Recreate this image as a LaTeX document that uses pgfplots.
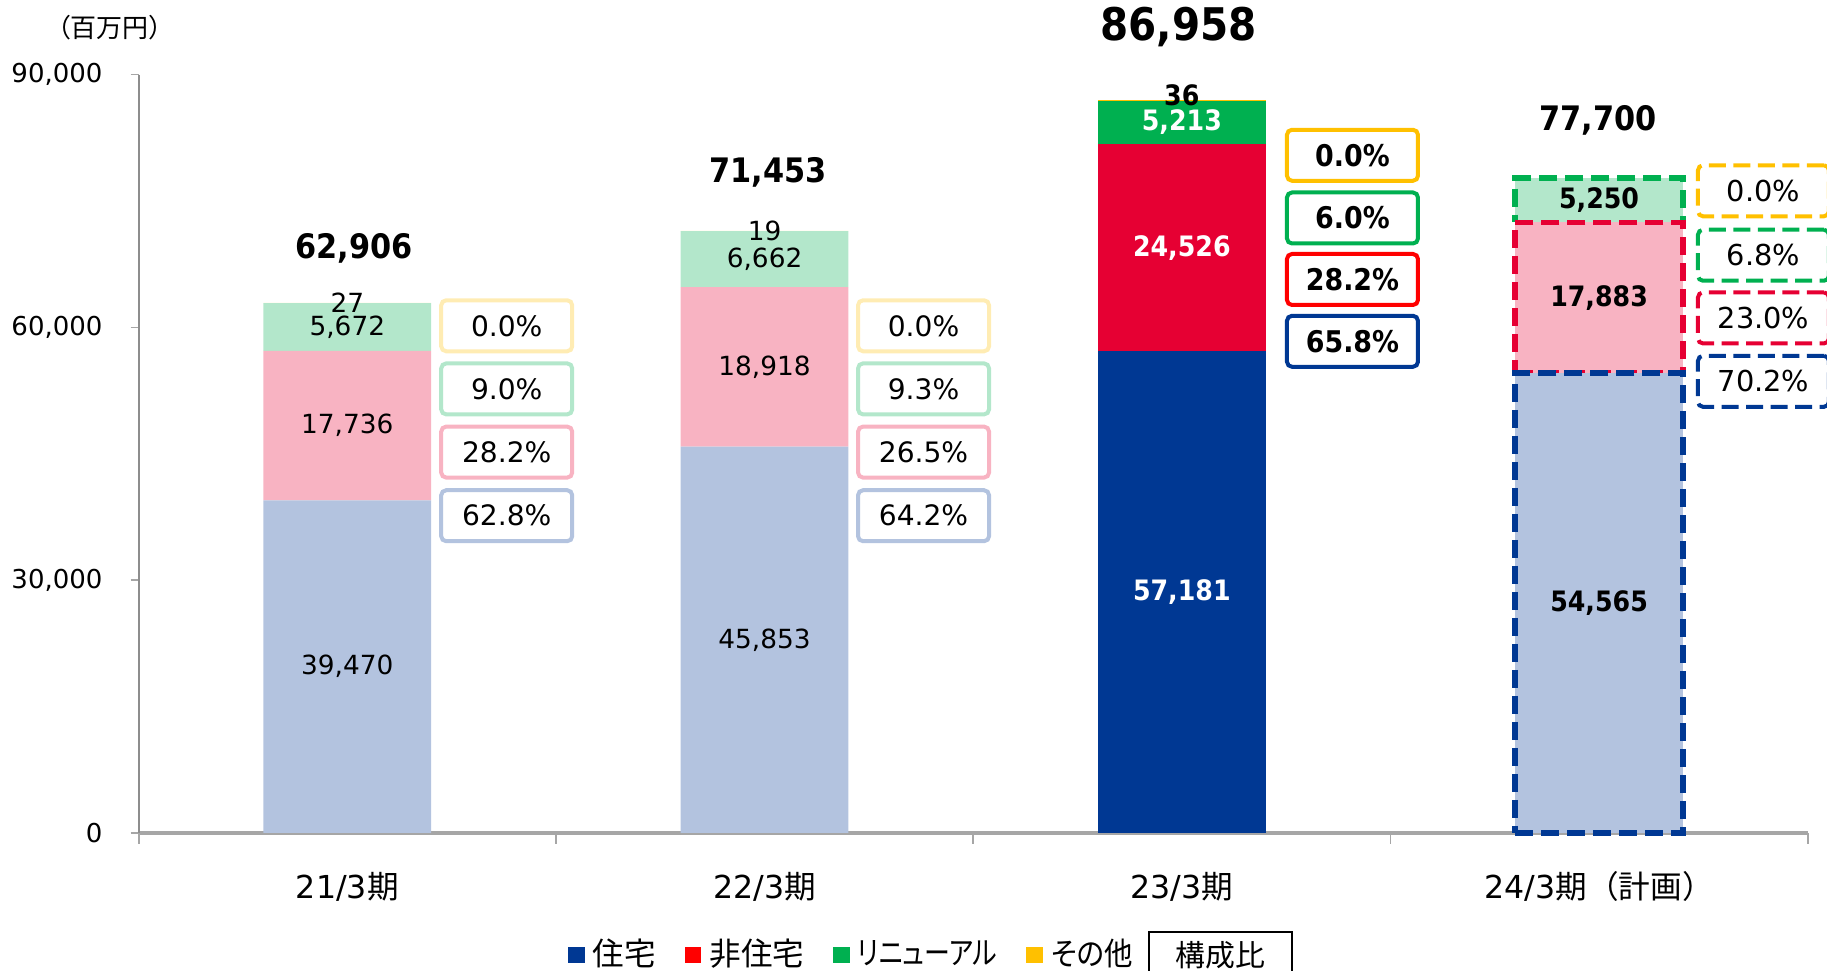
\documentclass[border=0pt]{standalone}
\usepackage{fontspec}
\usepackage{pgfplots}
\pgfplotsset{compat=1.18}
\setmainfont{DejaVu Sans}[BoldFont={DejaVu Sans Condensed Bold}]
\newfontfamily\cjk{Noto Sans CJK JP}
\newfontfamily\cjkp{Noto Sans CJK JP}[RawFeature=+palt]

\definecolor{dblue}{HTML}{003893}
\definecolor{lblue}{HTML}{B3C3DF}
\definecolor{dred}{HTML}{E60033}
\definecolor{lred}{HTML}{F8B3C2}
\definecolor{pred}{HTML}{FF0000}
\definecolor{dgreen}{HTML}{00B050}
\definecolor{lgreen}{HTML}{B3E7CB}
\definecolor{dyellow}{HTML}{FFC000}
\definecolor{lyellow}{HTML}{FFECB3}
\definecolor{axgray}{HTML}{A6A6A6}

\newcommand{\fs}[1]{\fontsize{#1}{#1}\selectfont}

% nodes near coords align=center already puts the label mid-segment
\pgfplotsset{
  frame/.style={
    scale only axis, width=166.9mm, height=75.84mm,
    xmin=-0.5, xmax=3.5, ymin=0, ymax=90000,
    ybar stacked, bar width=0.402, clip=false,
    point meta=explicit,
    /pgf/number format/1000 sep={,},
    /pgf/number format/assume math mode=true,
    nodes near coords align=center,
    every node near coord/.append style={anchor=center},
  },
  seg/.style={fill=#1, draw=none, forget plot, nodes near coords},
  plan/.style={fill=#1, line width=0.55mm, dash pattern=on 1.8mm off 0.8mm},
}
\tikzset{
  pb/.style={fill=white, line width=0.4mm, rounded corners=0.5mm,
    minimum width=13.1mm, minimum height=5.1mm, inner sep=0pt, font=\fs{8}},
  pbd/.style={pb, dash pattern=on 1.7mm off 0.75mm},
}

\begin{document}
\begin{tikzpicture}
\useasboundingbox (-13.87mm,-13.8mm) rectangle (168.83mm,83.3mm);

% 21/3, 22/3
\begin{axis}[frame,
  axis lines*=left,
  x axis line style={draw=axgray, line width=0.9pt},
  y axis line style={draw=axgray!85!black, line width=0.5pt},
  xtick={0,1,2,3},
  xticklabels={21/3{\cjk 期}, 22/3{\cjk 期}, 23/3{\cjk 期}, 24/3{\cjk 期（計画）}},
  minor xtick={-0.5,0.5,1.5,2.5,3.5},
  major x tick style={draw=none},
  minor x tick style={draw=axgray, line width=0.5pt},
  ytick={0,30000,60000,90000},
  y tick style={draw=axgray, line width=0.5pt},
  tick align=outside, major tick length=0.8mm, minor tick length=1.1mm,
  scaled y ticks=false,
  yticklabel style={font=\fs{7.4}, inner sep=0pt, xshift=-2.75mm},
  xticklabel style={font=\fs{9}, anchor=base, yshift=-5.8mm},
  every node near coord/.append style={font=\fs{7.5}},
  legend style={at={(0.257,-0.161)}, anchor=west, draw=none, fill=none,
    inner sep=0pt, font=\cjkp\fs{9}, legend columns=-1,
    nodes={inner sep=0pt},
    /tikz/every even column/.append style={column sep=2.9mm}},
]
\addplot[seg=lblue] coordinates {(0,39470) [39470] (1,45853) [45853]};
\addplot[seg=lred] coordinates {(0,17736) [17736] (1,18918) [18918]};
\addplot[seg=lgreen] coordinates {(0,5672) [5672] (1,6662) [6662]};
\addplot[seg=lyellow] coordinates {(0,27) [27] (1,19) [19]};

\addlegendimage{legend image code/.code={\fill[dblue] (0mm,-0.75mm) rectangle (1.5mm,0.75mm); \path (2.3mm,0mm);}}
\addlegendentry{住宅}
\addlegendimage{legend image code/.code={\fill[pred] (0mm,-0.75mm) rectangle (1.5mm,0.75mm); \path (2.3mm,0mm);}}
\addlegendentry{非住宅}
\addlegendimage{legend image code/.code={\fill[dgreen] (0mm,-0.75mm) rectangle (1.5mm,0.75mm); \path (2.3mm,0mm);}}
\addlegendentry{\scalebox{0.82}[1]{リニューアル}}
\addlegendimage{legend image code/.code={\fill[dyellow] (0mm,-0.75mm) rectangle (1.5mm,0.75mm); \path (2.3mm,0mm);}}
\addlegendentry{\scalebox{0.9}[1]{その他}}

\node[draw=black, line width=0.6pt, minimum width=14.3mm, minimum height=4.6mm,
  inner sep=0pt, font=\cjk\fs{8.5}] at (rel axis cs:0.648,-0.161) {構成比};
\node[font=\cjkp\fs{7.4}] at (axis cs:-0.569,95530) {（百万円）};
\end{axis}

% 23/3
\begin{axis}[frame, hide axis,
  every node near coord/.append style={font=\bfseries\fs{8}, text=white}]
\addplot[seg=dblue] coordinates {(2,57181) [57181]};
\addplot[seg=dred] coordinates {(2,24526) [24526]};
\addplot[seg=dgreen] coordinates {(2,5213) [5213]};
\addplot[seg=dyellow, every node near coord/.append style={text=black, yshift=1.5pt}] coordinates {(2,36) [36]};
\end{axis}

% 24/3 (plan)
\begin{axis}[frame, hide axis,
  every node near coord/.append style={font=\bfseries\fs{8}, text=black}]
\addplot[seg=lblue, plan=lblue, draw=dblue] coordinates {(3,54565) [54565]};
\addplot[seg=lred, plan=lred, draw=dred] coordinates {(3,17883) [17883]};
\addplot[seg=lgreen, plan=lgreen, draw=dgreen] coordinates {(3,5250) [5250]};

% totals
\node[font=\bfseries\fs{9.6}] at (axis cs:0.016,69422) {62,906};
\node[font=\bfseries\fs{9.6}] at (axis cs:1.008,78383) {71,453};
\node[font=\bfseries\fs{12.8}] at (axis cs:1.992,95700) {86,958};
\node[font=\bfseries\fs{9.6}] at (axis cs:2.998,84611) {77,700};

% composition boxes
\node[pb, draw=lyellow] at (axis cs:0.382,60190) {0.0\%};
\node[pb, draw=lgreen]  at (axis cs:0.382,52700) {9.0\%};
\node[pb, draw=lred]    at (axis cs:0.382,45200) {28.2\%};
\node[pb, draw=lblue]   at (axis cs:0.382,37650) {62.8\%};

\node[pb, draw=lyellow] at (axis cs:1.381,60190) {0.0\%};
\node[pb, draw=lgreen]  at (axis cs:1.381,52700) {9.3\%};
\node[pb, draw=lred]    at (axis cs:1.381,45200) {26.5\%};
\node[pb, draw=lblue]   at (axis cs:1.381,37650) {64.2\%};

\node[pb, draw=dyellow, font=\bfseries\fs{8.5}] at (axis cs:2.409,80424) {0.0\%};
\node[pb, draw=dgreen,  font=\bfseries\fs{8.5}] at (axis cs:2.409,72982) {6.0\%};
\node[pb, draw=pred,    font=\bfseries\fs{8.5}] at (axis cs:2.409,65684) {28.2\%};
\node[pb, draw=dblue,   font=\bfseries\fs{8.5}] at (axis cs:2.409,58350) {65.8\%};

\node[pbd, draw=dyellow, font=\fs{8.2}] at (axis cs:3.394,76210) {0.0\%};
\node[pbd, draw=dgreen,  font=\fs{8.2}] at (axis cs:3.394,68560) {6.8\%};
\node[pbd, draw=dred,    font=\fs{8.2}] at (axis cs:3.394,61120) {23.0\%};
\node[pbd, draw=dblue,   font=\fs{8.2}] at (axis cs:3.394,53600) {70.2\%};
\end{axis}
\end{tikzpicture}
\end{document}
